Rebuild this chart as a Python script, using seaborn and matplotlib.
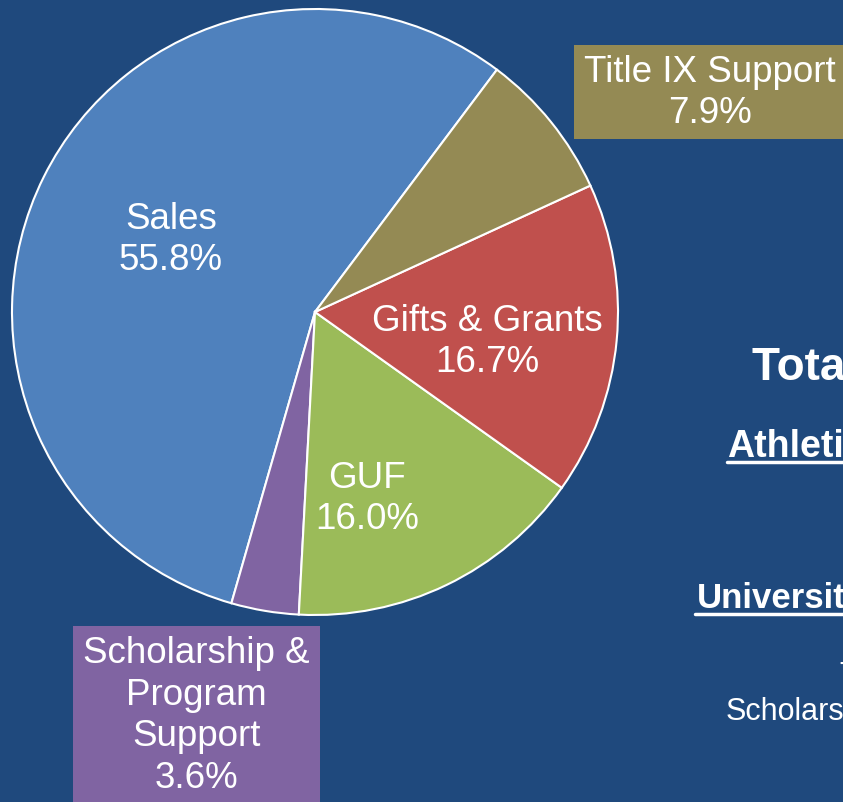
import matplotlib
matplotlib.use('Agg')
import matplotlib.pyplot as plt
import seaborn as sns

sns.set_theme(style="white")
plt.rcParams['font.family'] = ['Liberation Sans', 'DejaVu Sans']

# revenue shares, counter-clockwise from the Sales slice
sources = ['Sales', 'Scholarship &\nProgram\nSupport', 'GUF', 'Gifts & Grants', 'Title IX Support']
shares = [55.8, 3.6, 16.0, 16.7, 7.9]
colors = ['#4F81BD', '#8064A2', '#9BBB59', '#C0504D', '#948A54']

bg = '#1F497D'
W, H = 843, 802
fig = plt.figure(figsize=(W / 100, H / 100), dpi=100, facecolor=bg)
ax = fig.add_axes([0, 0, 1, 1])
ax.set_facecolor(bg)

ax.pie(shares, colors=colors, startangle=53.1, counterclock=True,
       center=(315, H - 312), radius=303,
       wedgeprops={'edgecolor': 'white', 'linewidth': 1.5})
ax.set_xlim(0, W)
ax.set_ylim(0, H)
ax.set_aspect('auto')
ax.axis('off')

lab = {'color': 'white', 'fontsize': 26.5, 'ha': 'center', 'va': 'center', 'linespacing': 1.24}

# labels inside the pie
ax.text(171, H - 240, f"{sources[0]}\n{shares[0]:.1f}%", **lab)
ax.text(487, H - 342, f"{sources[3]}\n{shares[3]:.1f}%", **lab)
ax.text(367, H - 499, f"{sources[2]}\n{shares[2]:.1f}%", **lab)

# boxed labels outside the pie
ax.add_patch(plt.Rectangle((574, H - 139), 300, 94, facecolor=colors[4], edgecolor='none'))
ax.text(710, H - 93, f"{sources[4]}\n{shares[4]:.1f}%", **lab)
ax.add_patch(plt.Rectangle((73, H - 802), 247, 176, facecolor=colors[1], edgecolor='none'))
ax.text(196, H - 716, f"{sources[1]}\n{shares[1]:.1f}%", **lab)

# side text, running off the right edge as in the slide
side = {'color': 'white', 'ha': 'left', 'va': 'baseline', 'clip_on': True}
ax.text(752, H - 380, "Total Revenue", fontsize=33, fontweight='bold', **side)
ax.text(727, H - 457, "Athletics", fontsize=27, fontweight='bold', **side)
ax.plot([727, 870], [H - 462, H - 462], color='white', lw=2.5)
ax.text(697, H - 608, "University", fontsize=25, fontweight='bold', **side)
ax.plot([695, 870], [H - 614, H - 614], color='white', lw=2.5)
ax.text(840, H - 684, "Title IX", fontsize=22, **side)
ax.text(726, H - 720, "Scholarship", fontsize=22, **side)

plt.savefig('out.png', dpi=100, facecolor=bg)
